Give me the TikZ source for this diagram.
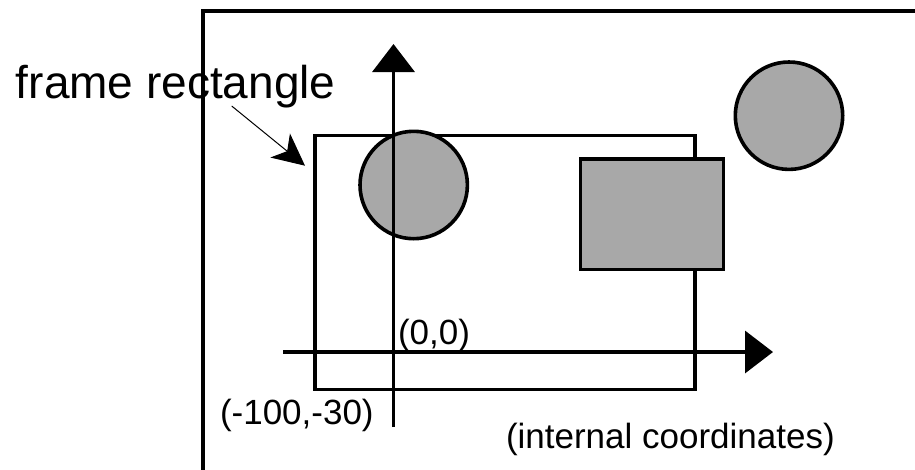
\documentclass[tikz,border=0pt]{standalone}
\usepackage{fontspec}
\setmainfont{Liberation Sans}
\usetikzlibrary{arrows.meta}
\definecolor{shapegray}{RGB}{168,168,168}
\tikzset{
  thickline/.style={line width=3.6pt},
  shapecircle/.style={circle, draw, thickline, fill=shapegray, inner sep=0pt, minimum size=107.4pt},
  shaperect/.style={rectangle, draw, thickline, fill=shapegray, inner sep=0pt},
  axis/.style={thickline, -{Triangle[length=28pt,width=42pt]}},
  lbl/.style={anchor=base west, inner sep=0pt, outer sep=0pt},
  bigtxt/.style={lbl, font=\fontsize{46}{50}\selectfont},
  smalltxt/.style={lbl, font=\fontsize{35}{40}\selectfont},
  pointer/.style={line width=1pt, -{Stealth[length=32pt,width=31pt,inset=9pt]}}
}
\begin{document}
\begin{tikzpicture}[x=1pt,y=-1pt]
\useasboundingbox (0,0) rectangle (915,469);
\fill[white] (0,0) rectangle (915,469);
% outer frame (extends past the picture)
\begin{scope}
\clip (0,0) rectangle (915,469);
\draw[line width=4pt] (203,11.3) rectangle (960,520);
\end{scope}
% inner frame rectangle
\node[rectangle, draw, thickline, inner sep=0pt, anchor=north west, minimum width=380pt, minimum height=254pt] (frame) at (313.3,133.6) {};
% shapes
\node[shapecircle] (c1) at (413.7,185) {};
\node[shapecircle] (c2) at (789,115.7) {};
\node[shaperect, anchor=north west, minimum width=142.7pt, minimum height=110.6pt] (r1) at (578.8,157.2) {};
% axes
\coordinate (ybot) at (393.5,427);
\coordinate (ytop) at (393.5,44);
\coordinate (xleft) at (283,352);
\coordinate (xright) at (773,352);
\draw[axis] (ybot) -- (ytop);
\draw[axis] (xleft) -- (xright);
% labels
\node[bigtxt] (flabel) at (16,98) {frame rectangle};
\node[smalltxt] (origin) at (398,344) {(0,0)};
\node[smalltxt] (corner) at (220,424) {(-100,-30)};
\node[smalltxt] (internal) at (506,448) {(internal coordinates)};
% pointer
\coordinate (pstart) at (231.7,106);
\coordinate (ptip) at (305,165.7);
\draw[pointer] (pstart) -- (ptip);
\end{tikzpicture}
\end{document}
